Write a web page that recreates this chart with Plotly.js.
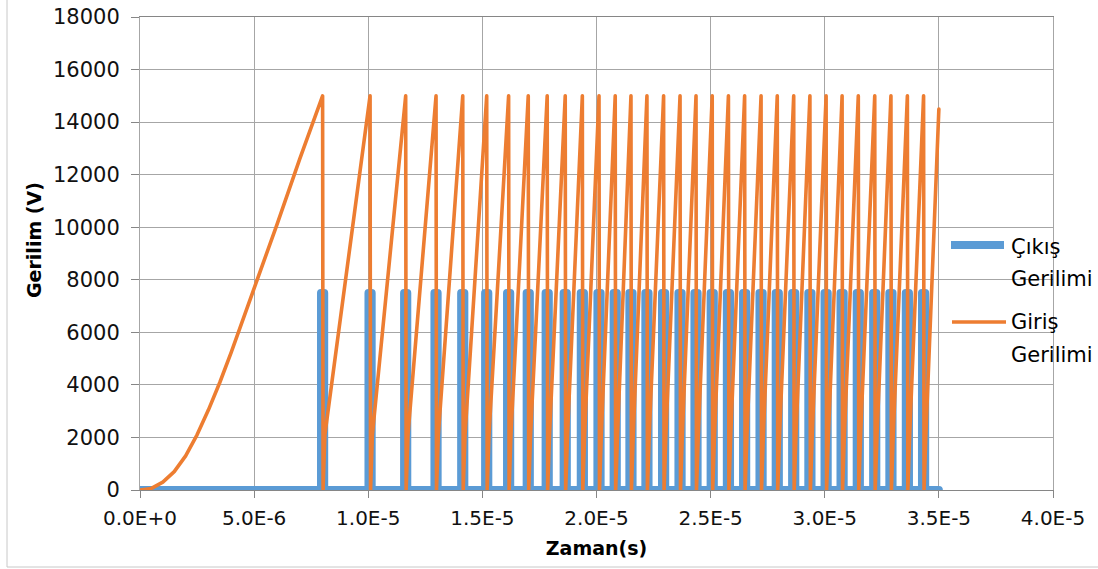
<!DOCTYPE html>
<html>
<head>
<meta charset="utf-8">
<script src="https://cdn.plot.ly/plotly-3.0.1.min.js"></script>
<style>
  html, body { margin: 0; padding: 0; background: #fff; }
  #chart { width: 1098px; height: 569px; }
</style>
</head>
<body>
<div id="chart"></div>
<script>
// ---- data (time in microseconds, voltage in volts) ----
const rampTimeUs = [0, 0.5, 1.0, 1.5, 2.0, 2.5, 3.0, 3.5, 4.0, 4.5, 5.0, 6.0, 7.0];
const rampVolt   = [0, 60, 300, 700, 1300, 2100, 3050, 4100, 5250, 6450, 7650, 10100, 12600];
const peakTimesUs = [8.00, 10.08, 11.64, 12.97, 14.14, 15.19, 16.15, 17.01, 17.84, 18.63,
                     19.38, 20.11, 20.82, 21.51, 22.21, 22.94, 23.66, 24.36, 25.07, 25.78,
                     26.49, 27.21, 27.92, 28.64, 29.35, 30.06, 30.76, 31.47, 32.19, 32.90,
                     33.62, 34.33];
const peakVolt = 15000;
const resetVolt = 0;
const kneeVolt = 2100;
const resetDelayUs = 0.02;
const kneeDelayUs = 0.10;
const endTimeUs = 35.0;
const endVolt = 14500;
const pulseVolt = 7500;
const pulseHalfWidthUs = 0.07;

const xTickVals = [0, 5e-6, 1e-5, 1.5e-5, 2e-5, 2.5e-5, 3e-5, 3.5e-5, 4e-5];
const xTickText = ['0.0E+0', '5.0E-6', '1.0E-5', '1.5E-5', '2.0E-5', '2.5E-5', '3.0E-5', '3.5E-5', '4.0E-5'];
const yTickVals = [0, 2000, 4000, 6000, 8000, 10000, 12000, 14000, 16000, 18000];

const seriesNames = ['Çıkış Gerilimi', 'Giriş Gerilimi'];

// ---- build traces from the data ----
const us = 1e-6;
const girisX = rampTimeUs.map(t => t * us);
const girisY = rampVolt.slice();
peakTimesUs.forEach(t => {
  girisX.push(t * us, (t + resetDelayUs) * us, (t + kneeDelayUs) * us);
  girisY.push(peakVolt, resetVolt, kneeVolt);
});
girisX.push(endTimeUs * us); girisY.push(endVolt);

const cikisX = [0], cikisY = [0];
peakTimesUs.forEach(t => {
  const a = (t - pulseHalfWidthUs) * us, b = (t + pulseHalfWidthUs) * us;
  cikisX.push(a, a, b, b);
  cikisY.push(0, pulseVolt, pulseVolt, 0);
});
cikisX.push(endTimeUs * us); cikisY.push(0);

const BLUE = '#5B9BD5', ORANGE = '#ED7D31';
const FONT = 'DejaVu Sans, Verdana, sans-serif';

const traces = [
  { x: cikisX, y: cikisY, type: 'scatter', mode: 'lines', name: seriesNames[0],
    line: { color: BLUE, width: 8 }, hoverinfo: 'skip' },
  { x: girisX, y: girisY, type: 'scatter', mode: 'lines', name: seriesNames[1],
    line: { color: ORANGE, width: 3.6 }, hoverinfo: 'skip' }
];

// pixel -> paper helpers (plot area 140..1053 x 17..490)
const px = p => (p - 140) / 913;
const py = p => (490 - p) / 473;

const layout = {
  width: 1098, height: 569,
  margin: { l: 140, r: 45, t: 17, b: 79, pad: 0 },
  paper_bgcolor: '#ffffff', plot_bgcolor: '#ffffff',
  showlegend: false,
  font: { family: FONT, size: 20, color: '#111' },
  xaxis: {
    range: [0, 4e-5], tickmode: 'array', tickvals: xTickVals, ticktext: xTickText,
    showgrid: true, gridcolor: '#a6a6a6', gridwidth: 1, zeroline: false,
    showline: true, linecolor: '#868686', linewidth: 1, mirror: true,
    ticks: 'outside', ticklen: 7, tickcolor: '#868686', ticklabelstandoff: 3,
    tickfont: { family: FONT, size: 20, color: '#111' },
    title: { text: '<b>Zaman(s)</b>', font: { family: FONT, size: 19, color: '#000' }, standoff: 12 }
  },
  yaxis: {
    range: [0, 18000], tickmode: 'array', tickvals: yTickVals, tickformat: 'd',
    showgrid: true, gridcolor: '#a6a6a6', gridwidth: 1, zeroline: false,
    showline: true, linecolor: '#a6a6a6', linewidth: 1, mirror: true,
    ticks: 'outside', ticklen: 8, tickcolor: '#868686', ticklabelstandoff: 7,
    tickfont: { family: FONT, size: 21, color: '#111' }
  },
  shapes: [
    { type: 'rect', xref: 'paper', yref: 'paper', x0: px(7), x1: px(1110), y0: py(567), y1: py(-5),
      line: { color: '#c8c8c8', width: 1 }, fillcolor: 'rgba(0,0,0,0)', layer: 'below' },
    { type: 'line', xref: 'paper', yref: 'paper', x0: px(951), x1: px(1004), y0: py(245), y1: py(245),
      line: { color: BLUE, width: 8 } },
    { type: 'line', xref: 'paper', yref: 'paper', x0: px(952), x1: px(1006), y0: py(322), y1: py(322),
      line: { color: ORANGE, width: 3.6 } }
  ],
  annotations: [
    { xref: 'paper', yref: 'paper', x: px(34), y: py(240), xanchor: 'center', yanchor: 'middle',
      textangle: -90, text: '<b>Gerilim (V)</b>', showarrow: false,
      font: { family: FONT, size: 19, color: '#000' } },
    { xref: 'paper', yref: 'paper', x: px(1009), y: py(247), xanchor: 'left', yanchor: 'middle',
      text: 'Çıkış', showarrow: false, font: { family: FONT, size: 21, color: '#000' } },
    { xref: 'paper', yref: 'paper', x: px(1009), y: py(279), xanchor: 'left', yanchor: 'middle',
      text: 'Gerilimi', showarrow: false, font: { family: FONT, size: 21, color: '#000' } },
    { xref: 'paper', yref: 'paper', x: px(1009), y: py(322), xanchor: 'left', yanchor: 'middle',
      text: 'Giriş', showarrow: false, font: { family: FONT, size: 21, color: '#000' } },
    { xref: 'paper', yref: 'paper', x: px(1009), y: py(355), xanchor: 'left', yanchor: 'middle',
      text: 'Gerilimi', showarrow: false, font: { family: FONT, size: 21, color: '#000' } }
  ]
};

function roundJoins(gd) {
  gd.querySelectorAll('.scatterlayer path.js-line, .scatterlayer path').forEach(p => {
    p.style.strokeLinejoin = 'round';
    p.style.strokeLinecap = 'round';
  });
}

Plotly.newPlot('chart', traces, layout, { staticPlot: true, displayModeBar: false })
  .then(gd => { roundJoins(gd); });
</script>
</body>
</html>
